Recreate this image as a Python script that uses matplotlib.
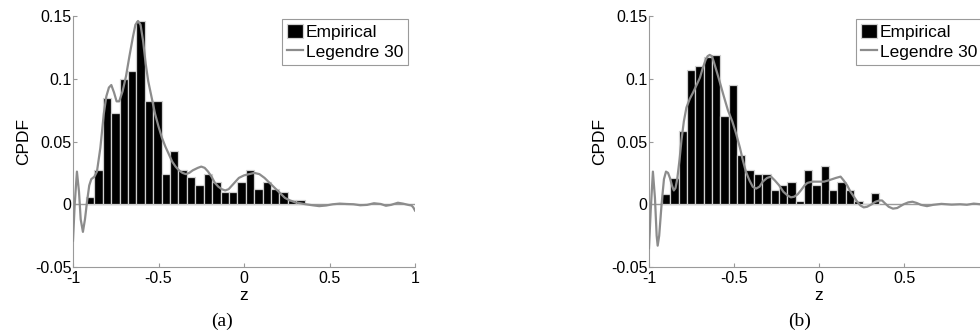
import matplotlib.pyplot as plt
import numpy as np

plt.rcParams['font.family'] = ['Liberation Sans', 'DejaVu Sans']

# histogram bins (centres) shared by both panels
bin_start = -0.9
bin_width = 0.0492

# (a) empirical bar heights
emp_a = [0.006, 0.027, 0.085, 0.073, 0.100, 0.106, 0.146, 0.082, 0.082, 0.0245,
         0.0425, 0.027, 0.0215, 0.015, 0.0245, 0.018, 0.0096, 0.0096, 0.018, 0.027,
         0.012, 0.018, 0.012, 0.0096, 0.003, 0.003]
# (b) empirical bar heights
emp_b = [0.0085, 0.0207, 0.058, 0.107, 0.110, 0.117, 0.119, 0.070, 0.0947, 0.039,
         0.027, 0.024, 0.024, 0.0117, 0.015, 0.018, 0.0027, 0.027, 0.015, 0.0306,
         0.0117, 0.018, 0.0117, 0.0027, 0.0, 0.009]

# Legendre 30 curves
z_a = [-1.0, -0.99, -0.977, -0.965, -0.955, -0.942, -0.93, -0.918, -0.905, -0.893,
       -0.875, -0.86, -0.84, -0.82, -0.805, -0.79, -0.776, -0.76, -0.745, -0.73,
       -0.71, -0.69, -0.67, -0.65, -0.635, -0.62, -0.605, -0.59, -0.575, -0.56,
       -0.54, -0.52, -0.50, -0.48, -0.46, -0.44, -0.42, -0.40, -0.38, -0.36,
       -0.34, -0.32, -0.30, -0.27, -0.25, -0.23, -0.21, -0.19, -0.17, -0.15,
       -0.13, -0.11, -0.09, -0.07, -0.05, -0.03, 0.0, 0.03, 0.06, 0.09,
       0.12, 0.15, 0.18, 0.21, 0.24, 0.27, 0.30, 0.33, 0.36, 0.40,
       0.44, 0.48, 0.52, 0.56, 0.60, 0.64, 0.68, 0.72, 0.76, 0.80,
       0.83, 0.86, 0.90, 0.93, 0.96, 0.98, 0.99, 1.0]
leg_a = [-0.029, 0.0, 0.026, 0.01, -0.012, -0.022, -0.012, 0.002, 0.015, 0.020,
         0.022, 0.026, 0.045, 0.072, 0.086, 0.093, 0.095, 0.089, 0.082, 0.082,
         0.090, 0.102, 0.118, 0.133, 0.143, 0.146, 0.143, 0.130, 0.112, 0.098,
         0.085, 0.072, 0.062, 0.053, 0.046, 0.040, 0.034, 0.030, 0.027, 0.025,
         0.024, 0.025, 0.027, 0.029, 0.030, 0.029, 0.026, 0.022, 0.017, 0.014,
         0.012, 0.011, 0.012, 0.015, 0.018, 0.021, 0.023, 0.024, 0.025, 0.024,
         0.021, 0.017, 0.013, 0.009, 0.005, 0.003, 0.0015, 0.0008, 0.0, -0.0008,
         -0.0015, -0.001, 0.0, 0.0005, 0.0002, 0.0, -0.0008, -0.0005, 0.0008, 0.0002,
         -0.0012, -0.0005, 0.0012, 0.0005, -0.0005, -0.001, -0.0025, -0.005]

z_b = [-1.0, -0.99, -0.977, -0.965, -0.955, -0.949, -0.94, -0.926, -0.912, -0.90,
       -0.888, -0.877, -0.865, -0.854, -0.844, -0.834, -0.82, -0.809, -0.795, -0.78,
       -0.76, -0.741, -0.72, -0.70, -0.685, -0.667, -0.655, -0.643, -0.63, -0.62,
       -0.60, -0.585, -0.56, -0.536, -0.51, -0.487, -0.465, -0.448, -0.43, -0.409,
       -0.39, -0.37, -0.35, -0.331, -0.305, -0.282, -0.26, -0.234, -0.21, -0.185,
       -0.165, -0.146, -0.125, -0.107, -0.085, -0.068, -0.04, -0.019, 0.005, 0.03,
       0.055, 0.078, 0.10, 0.127, 0.145, 0.166, 0.185, 0.205, 0.225, 0.244,
       0.263, 0.283, 0.31, 0.332, 0.355, 0.371, 0.39, 0.41, 0.435, 0.46,
       0.498, 0.525, 0.55, 0.575, 0.60, 0.635, 0.67, 0.72, 0.78, 0.83,
       0.87, 0.91, 0.95, 1.0]
leg_b = [-0.035, -0.005, 0.026, 0.005, -0.025, -0.033, -0.025, 0.0, 0.02, 0.026,
         0.025, 0.021, 0.015, 0.011, 0.013, 0.02, 0.036, 0.051, 0.066, 0.077,
         0.084, 0.089, 0.095, 0.101, 0.108, 0.115, 0.118, 0.119, 0.118, 0.114,
         0.105, 0.098, 0.086, 0.075, 0.066, 0.056, 0.045, 0.035, 0.026, 0.019,
         0.014, 0.0125, 0.014, 0.018, 0.021, 0.022, 0.019, 0.015, 0.010, 0.007,
         0.0055, 0.006, 0.008, 0.011, 0.015, 0.017, 0.018, 0.018, 0.018, 0.018,
         0.019, 0.020, 0.021, 0.022, 0.019, 0.015, 0.010, 0.006, 0.002, -0.001,
         -0.0025, -0.002, 0.0, 0.002, 0.003, 0.003, 0.0005, -0.002, -0.0035, -0.003,
         0.0, 0.0015, 0.002, 0.001, -0.0005, -0.0015, -0.0005, 0.0003, -0.0003, 0.0,
         -0.0004, 0.0005, 0.0, 0.0]

xticks = [-1, -0.5, 0, 0.5, 1]
xlabels = ['-1', '-0.5', '0', '0.5', '1']
yticks = [-0.05, 0, 0.05, 0.1, 0.15]
ylabels = ['-0.05', '0', '0.05', '0.1', '0.15']

axis_grey = '#9a9a9a'
line_grey = '#8c8c8c'


def panel(ax, emp, z, leg, caption, cap_x):
    centers = bin_start + bin_width * np.arange(len(emp))
    ax.axhline(0, color=axis_grey, lw=1.0, zorder=1)
    bars = ax.bar(centers, emp, width=bin_width, color='black', edgecolor='#d0d0d0',
                  linewidth=0.9, zorder=2)
    line, = ax.plot(z, leg, color=line_grey, lw=1.6, zorder=3)
    ax.set_xlim(-1, 1)
    ax.set_ylim(-0.05, 0.15)
    ax.set_xticks(xticks)
    ax.set_xticklabels(xlabels)
    ax.set_yticks(yticks)
    ax.set_yticklabels(ylabels)
    for s in ['top', 'right']:
        ax.spines[s].set_visible(False)
    for s in ['left', 'bottom']:
        ax.spines[s].set_color(axis_grey)
    ax.tick_params(direction='in', length=3, color=axis_grey, labelsize=11.5, pad=1)
    ax.tick_params(axis='x', pad=3)
    ax.set_xlabel('z', fontsize=12.5, labelpad=1)
    ax.set_ylabel('CPDF', fontsize=12.5, labelpad=3)
    lg = ax.legend([bars, line], ['Empirical', 'Legendre 30'],
                   loc='upper right', bbox_to_anchor=(0.98, 0.99), fontsize=12.5,
                   fancybox=False, framealpha=1, edgecolor=axis_grey,
                   borderpad=0.3, handlelength=0.9, handleheight=0.9,
                   handletextpad=0.15, labelspacing=0.2, borderaxespad=0.0)
    lg.get_frame().set_linewidth(0.8)
    ax.figure.text(cap_x, 0.04, caption, ha='center', va='center',
                   fontsize=14, family='Liberation Serif')


plt.close("all")
fig = plt.figure(figsize=(9.8, 3.35), dpi=100)
ax1 = fig.add_axes([73 / 980, 68 / 335, 342 / 980, 251 / 335])
ax2 = fig.add_axes([649 / 980, 68 / 335, 340 / 980, 251 / 335])
panel(ax1, emp_a, z_a, leg_a, '(a)', 222 / 980)
panel(ax2, emp_b, z_b, leg_b, '(b)', 800 / 980)
fig.savefig('out.png', dpi=100)
